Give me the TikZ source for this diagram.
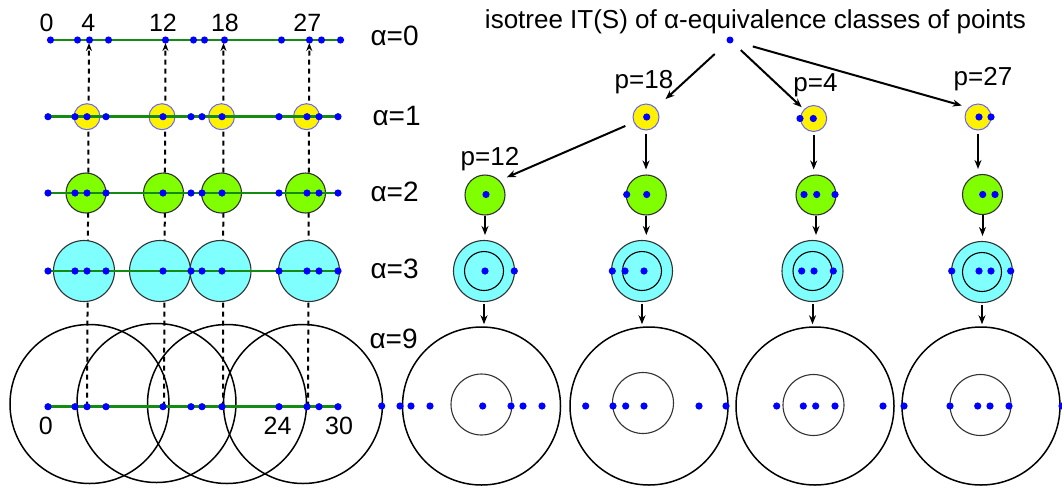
\documentclass[tikz,border=0pt]{standalone}
\usepackage{fontspec}
\setmainfont{Liberation Sans}
\usetikzlibrary{positioning, arrows.meta}

\definecolor{axisgreen}{RGB}{20,140,20}
\definecolor{ringblue}{RGB}{100,100,255}
\definecolor{lime}{RGB}{128,255,0}
\definecolor{aqua}{RGB}{128,255,255}
\definecolor{rim}{RGB}{50,50,50}

\begin{document}
\begin{tikzpicture}[
    x=1pt, y=-1pt,
    every node/.style={font=\fontsize{26}{30}\selectfont},
    num/.style={anchor=base, font=\fontsize{25}{29}\selectfont},
    alab/.style={anchor=base west, font=\fontsize{28}{32}\selectfont},
    plab/.style={anchor=base},
    yel/.style={circle, draw=ringblue, line width=1pt, fill=yellow, minimum size=26pt, inner sep=0pt},
    grn/.style={circle, draw=rim, line width=1.1pt, fill=lime, minimum size=40pt, inner sep=0pt},
    cyn/.style={circle, draw=rim, line width=1.1pt, fill=aqua, minimum size=61pt, inner sep=0pt},
    big/.style={circle, draw, line width=1.5pt, minimum size=158pt, inner sep=0pt},
    root/.style={circle, fill=blue, minimum size=7pt, inner sep=0pt},
    arr/.style={-{Stealth[length=9pt, width=7pt]}, line width=2pt},
    dasharr/.style={-{Stealth[length=8pt, width=6pt]}, line width=2pt, dash pattern=on 5pt off 4pt},
    axis/.style={draw=axisgreen, line width=2.6pt}
]
\useasboundingbox (0,0) rectangle (1062,488);

% Left: dashed links from alpha=9 up to alpha=0
\coordinate (lo4) at (87,406.7);    \coordinate (hi4) at (89,40);
\coordinate (lo12) at (164,406.7);  \coordinate (hi12) at (165.5,40);
\coordinate (lo18) at (223,406.7);  \coordinate (hi18) at (223.5,40);
\coordinate (lo27) at (308,406.7);  \coordinate (hi27) at (309.3,40);
\draw[dasharr, shorten >=3pt] (lo4) -- (hi4);
\draw[dasharr, shorten >=3pt] (lo12) -- (hi12);
\draw[dasharr, shorten >=3pt] (lo18) -- (hi18);
\draw[dasharr, shorten >=3pt] (lo27) -- (hi27);

% Left: balls of the classes
\foreach \cx in {87,162,221.5,306.5}
    \draw[draw=ringblue, line width=1pt, fill=yellow] (\cx,116.7) circle (13pt);
\foreach \cx in {86,163.5,221.5,305.5}
    \draw[draw=rim, line width=1.1pt, fill=lime] (\cx,193) circle (20pt);
\foreach \cx in {84,160,220.5,309}
    \draw[draw=rim, line width=1.1pt, fill=aqua] (\cx,271) circle (30.5pt);
\foreach \cx/\cy in {89.5/404, 156.5/403, 227/404, 303/404}
    \draw[line width=1.5pt] (\cx,\cy) circle (79.5pt);

% Left: the point set on each level
\draw[axis] (50.5,40) -- (340.5,40);
\foreach \px in {50.5,77.5,89.5,108.5,165.5,193.5,204.5,224.5,281.5,309.5,321.5,340.5}
    \fill[blue] (\px,40) circle (3.6pt);
\foreach \ry in {116.7,193,271,406.7} {
    \draw[axis] (48,\ry) -- (338,\ry);
    \foreach \px in {48,75,87,106,163,191,202,222,279,307,319,338}
        \fill[blue] (\px,\ry) circle (3.6pt);
}

% Left: values
\node[num] (v0) at (46.7,31.7) {0};
\node[num] (v4) at (88.3,31.7) {4};
\node[num] (v12) at (163,31.7) {12};
\node[num] (v18) at (225,31.7) {18};
\node[num] (v27) at (307.3,31.7) {27};
\node[num] (w0) at (45.8,434) {0};
\node[num] (w24) at (277.5,434) {24};
\node[num] (w30) at (339,434) {30};

% Levels
\node[alab] (a0) at (367,45) {α=0};
\node[alab] (a1) at (369,125) {α=1};
\node[alab] (a2) at (367,201.7) {α=2};
\node[alab] (a3) at (367,278.3) {α=3};
\node[alab] (a9) at (366,348) {α=9};

% Right: isotree
\node[plab] (title) at (755.5,28.3) {isotree IT(S) of α-equivalence classes of points};
\node[root] (root) at (730,40) {};

\node[yel] (p18a1) at (646,117) {};
\node[yel] (p4a1) at (813.7,118.5) {};
\node[yel] (p27a1) at (978,117) {};

\node[grn] (p12a2) at (485,195) {};
\node[grn] (p18a2) at (646.3,195) {};
\node[grn] (p4a2) at (816,195) {};
\node[grn] (p27a2) at (982.5,194.5) {};

\node[cyn] (p12a3) at (484,271) {};
\node[cyn] (p18a3) at (642,271) {};
\node[cyn] (p4a3) at (812.5,271) {};
\node[cyn] (p27a3) at (982,272) {};

\node[big] (p12a9) at (481.5,406) {};
\node[big] (p18a9) at (649,406) {};
\node[big] (p4a9) at (815,406) {};
\node[big] (p27a9) at (981,406) {};

% Inner rings
\foreach \n in {p12a3,p18a3,p4a3,p27a3}
    \draw[line width=1.1pt] (\n.center) circle (19.5pt);
\foreach \cx/\cy in {481.5/404.5, 643/403, 813.5/405, 980.5/405}
    \draw[line width=1.1pt, draw=rim] (\cx,\cy) circle (30.5pt);

% Class labels
\node[plab] (l18) at (644,88.3) {p=18};
\node[plab] (l4) at (815.5,91.7) {p=4};
\node[plab] (l27) at (983,85) {p=27};
\node[plab] (l12) at (490,165) {p=12};

% Edges
\draw[arr, shorten <=17pt, shorten >=13pt] (root) -- (p18a1);
\draw[arr, shorten <=11pt, shorten >=3pt] (root) -- (p4a1);
\draw[arr, shorten <=20pt, shorten >=7pt] (root) -- (p27a1.north west);
\draw[arr, shorten <=9pt, shorten >=8pt] (p18a1) -- (p12a2.north east);
\foreach \p in {p18,p4,p27}
    \draw[arr, shorten <=3pt, shorten >=5pt] (\p a1) -- (\p a1 |- \p a2.north);
\foreach \p in {p12,p18,p4,p27} {
    \draw[arr, shorten >=5pt] (\p a2) -- (\p a2 |- \p a3.north);
    \draw[arr, shorten <=2pt, shorten >=2pt] (\p a3) -- (\p a3 |- \p a9.north);
}

% Points inside the classes
\foreach \px/\py in {646.7/117, 800/118.5, 813.3/118.5, 979/117, 991/117}
    \fill[blue] (\px,\py) circle (3.6pt);
\foreach \px in {486,626.7,646.7,804,816.7,835,982.7,995}
    \fill[blue] (\px,194.5) circle (3.6pt);
\foreach \px in {485,514.3,612.3,625,644,801.7,814,833.3,951.7,979,991,1010.7}
    \fill[blue] (\px,271) circle (3.6pt);
\foreach \px in {381.7,400,411,430,482.7,511,523,542,585.7,613,625.7,644,699,726,776.7,803.3,815.7,835,883,904,950,977.7,990,1009,1062}
    \fill[blue] (\px,406) circle (3.6pt);

\end{tikzpicture}
\end{document}
